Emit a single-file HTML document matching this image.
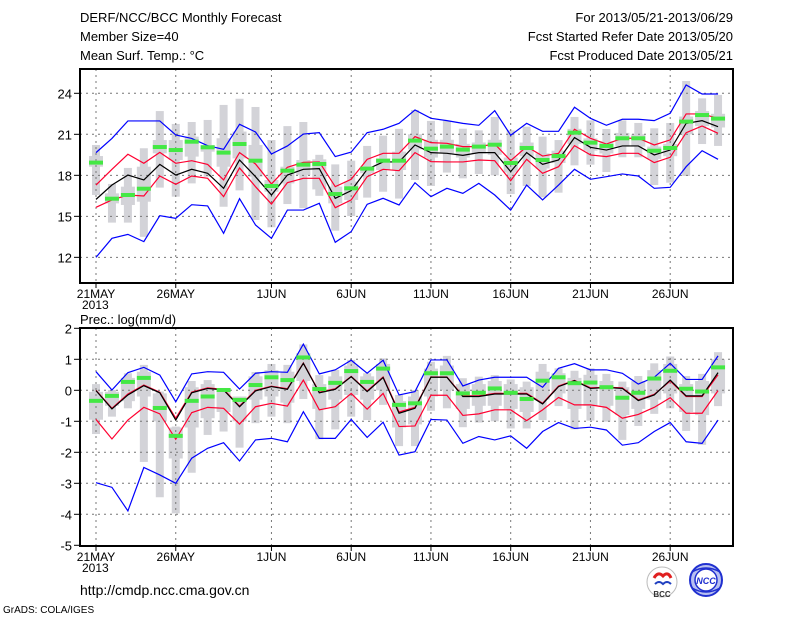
<!DOCTYPE html>
<html><head><meta charset="utf-8"><style>
body{margin:0;background:#fff;}
svg{display:block;font-family:"Liberation Sans",sans-serif;}
</style></head><body>
<svg id="chart" width="800" height="618" viewBox="0 0 800 618">
<rect x="0" y="0" width="800" height="618" fill="#fff"/>
<g font-size="13" fill="#000">
<text x="80" y="22">DERF/NCC/BCC Monthly Forecast</text>
<text x="80" y="41">Member Size=40</text>
<text x="80" y="60">Mean Surf. Temp.: °C</text>
<text x="733" y="22" text-anchor="end">For 2013/05/21-2013/06/29</text>
<text x="733" y="41" text-anchor="end">Fcst Started Refer Date 2013/05/20</text>
<text x="733" y="60" text-anchor="end">Fcst Produced Date 2013/05/21</text>
<text x="80" y="324">Prec.: log(mm/d)</text>
<text x="80" y="595" font-size="14">http://cmdp.ncc.cma.gov.cn</text>
<text x="3" y="613" font-size="10">GrADS: COLA/IGES</text>
</g>
<g>
<circle cx="662" cy="582" r="15" fill="#fff" stroke="#bbb" stroke-width="1"/>
<path d="M654 578 q4 -7 9 -2 q5 -5 8 2" stroke="#e02020" stroke-width="3" fill="none"/>
<path d="M655 584 q4 -4 8 0 q4 -4 8 0" stroke="#2040c0" stroke-width="2" fill="none"/>
<text x="662" y="597" font-size="8" text-anchor="middle" font-weight="bold" fill="#333">BCC</text>
</g>
<g>
<circle cx="706" cy="580" r="16" fill="#b8c0f0" stroke="#2030d0" stroke-width="2"/>
<circle cx="706" cy="580" r="11" fill="#fff" stroke="#2030d0" stroke-width="1.5"/>
<path d="M692 572 q14 -8 28 0 M692 588 q14 8 28 0" stroke="#2030d0" stroke-width="1.5" fill="none"/>
<text x="706" y="584" font-size="9" text-anchor="middle" font-weight="bold" font-style="italic" fill="#2030d0">NCC</text>
</g>
<g id="plots"></g>
</svg>
<script>
const dates=["21MAY","26MAY","1JUN","6JUN","11JUN","16JUN","21JUN","26JUN"];
const dateIdx=[0,5,11,16,21,26,31,36];
const tTicks=[12,15,18,21,24];
const pTicks=[-5,-4,-3,-2,-1,0,1,2];
// Temperature
const tBlueHi=[19.66,20.7,21.98,21.98,21.98,20.95,20.7,20.17,19.9,21.73,21.17,19.56,20.15,21.02,21.12,19.37,19.7,21.12,21.37,21.8,22.78,22.17,22.0,21.8,21.66,22.73,20.93,21.8,21.22,21.22,22.98,22.17,21.66,22.1,22.1,22.0,22.54,24.61,23.95,23.95];
const tRedHi=[17.29,18.44,19.54,18.88,19.68,18.88,19.07,18.8,17.66,19.66,18.83,17.37,18.59,18.95,18.98,17.17,17.71,19.17,19.61,19.61,20.83,20.39,20.34,20.1,20.1,20.29,19.07,20.1,19.41,19.61,21.37,20.71,20.29,20.71,20.71,20.22,20.59,22.49,22.49,22.17];
const tMean=[16.24,17.29,18.02,17.66,18.8,18.02,18.44,18.15,17.05,19.12,17.9,16.56,18.02,18.44,18.49,16.32,16.88,18.44,18.98,18.98,20.22,19.66,19.61,19.46,19.66,19.66,18.27,19.66,18.8,19.12,20.76,20.05,19.85,20.15,20.15,19.49,19.85,21.8,22.0,21.56];
const tRedLo=[15.66,16.2,16.56,16.49,17.95,17.34,17.95,17.78,16.44,18.54,17.17,15.9,17.46,17.78,17.78,15.63,16.2,17.9,18.44,18.34,19.66,19.0,18.98,18.98,19.12,19.07,17.61,19.17,18.15,18.63,20.17,19.49,19.37,19.61,19.61,18.93,19.32,21.12,21.61,21.07];
const tBlueLo=[12.0,13.39,13.68,13.15,15.05,14.85,15.85,15.76,13.76,16.29,14.37,13.39,15.46,15.46,15.95,13.1,13.88,15.88,16.32,15.83,17.46,16.44,17.05,16.68,17.41,16.56,15.46,17.29,16.2,17.29,18.44,17.71,17.9,18.1,17.95,17.05,17.12,18.63,19.8,19.17];
const tObs=[18.93,16.29,16.56,17.02,20.07,19.85,20.46,20.05,19.66,20.29,19.07,17.22,18.34,18.78,18.83,16.63,17.05,18.49,19.07,19.07,20.54,19.95,20.1,19.88,20.1,20.24,18.9,20.0,19.12,19.41,21.12,20.39,20.15,20.71,20.71,19.8,20.0,21.93,22.41,22.15];
const tWhiskHi=[20.22,17.37,18.54,19.98,22.7,21.76,21.9,22.05,23.15,23.6,23.0,20.58,21.6,21.9,19.5,18.8,19.07,20.15,20.9,21.4,22.78,21.98,21.98,21.41,21.29,22.27,21.29,21.56,20.83,20.58,22.27,22.02,21.39,22.02,21.83,21.44,21.83,24.9,23.63,23.88];
const tWhiskLo=[16.56,14.54,14.54,13.5,17.1,16.44,17.41,17.9,15.7,16.9,14.73,14.2,15.9,15.6,16.5,13.95,15.02,16.37,16.8,16.3,17.66,17.22,18.2,17.78,18.1,18.0,16.63,17.22,16.39,16.73,18.73,18.78,18.24,19.32,19.32,17.29,17.46,17.95,20.29,20.15];
const tBoxHi=[19.41,16.68,17.17,18.63,20.58,20.58,20.83,20.22,20.71,21.2,20.22,17.66,18.63,19.12,19.17,17.17,17.54,18.63,19.24,19.73,21.0,20.6,20.6,20.3,20.4,20.6,19.3,20.4,19.6,19.8,21.4,20.7,20.5,21.1,21.0,20.1,20.3,22.3,22.7,22.5];
const tBoxLo=[18.63,15.95,15.83,16.07,19.61,19.12,19.37,19.73,18.63,19.24,17.9,16.8,17.41,18.02,16.97,15.95,16.2,18.15,18.39,18.39,19.9,19.3,19.6,19.3,19.6,19.5,18.2,19.4,18.5,18.9,20.3,19.8,19.6,20.1,20.1,19.2,19.4,21.0,21.6,21.5];
// Precipitation
const pBlueHi=[0.6,0.01,0.57,0.74,0.49,-0.37,0.53,0.6,0.58,0.04,0.55,0.6,0.58,1.49,0.53,0.66,0.97,0.55,0.97,-0.15,-0.04,0.98,0.98,0.14,0.33,0.42,0.42,0.42,0.1,0.71,0.86,0.66,0.66,0.55,0.2,0.42,0.87,0.35,0.35,1.11];
const pRedHi=[0.0,-0.58,-0.12,0.17,-0.06,-0.9,-0.06,0.08,0.03,-0.51,0.0,0.13,0.05,0.88,-0.06,0.05,0.45,-0.02,0.43,-0.7,-0.55,0.43,0.43,-0.18,-0.18,-0.1,-0.1,-0.1,-0.42,0.14,0.32,0.08,0.1,0.08,-0.31,-0.13,0.3,-0.2,-0.2,0.5];
const pMean=[-0.01,-0.6,-0.15,0.15,-0.08,-0.96,-0.08,0.06,0.01,-0.53,-0.02,0.12,0.03,0.87,-0.08,0.03,0.44,-0.04,0.41,-0.74,-0.58,0.42,0.42,-0.2,-0.2,-0.12,-0.12,-0.12,-0.44,0.12,0.31,0.06,0.09,0.06,-0.33,-0.15,0.33,-0.18,-0.18,0.57];
const pRedLo=[-0.94,-1.57,-0.96,-0.55,-0.76,-1.58,-0.72,-0.55,-0.58,-1.09,-0.53,-0.42,-0.51,0.33,-0.63,-0.53,-0.1,-0.61,-0.1,-1.17,-1.15,-0.16,-0.16,-0.81,-0.76,-0.63,-0.63,-0.98,-0.63,-0.23,-0.47,-0.47,-0.55,-0.9,-0.78,-0.55,-0.24,-0.74,-0.74,-0.01];
const pBlueLo=[-2.98,-3.13,-3.89,-2.49,-2.73,-3.0,-2.19,-1.87,-1.69,-2.28,-1.6,-1.55,-1.66,-0.69,-1.55,-1.55,-0.94,-1.52,-1.03,-2.09,-1.98,-0.94,-0.96,-1.71,-1.49,-1.6,-1.47,-1.87,-1.33,-1.04,-1.23,-1.19,-1.28,-1.77,-1.69,-1.33,-1.04,-1.66,-1.71,-0.96];
const pObs=[-0.34,-0.18,0.27,0.4,-0.57,-1.47,-0.34,-0.2,0.01,-0.31,0.17,0.42,0.33,1.06,0.04,0.24,0.62,0.27,0.7,-0.47,-0.42,0.55,0.55,-0.1,-0.08,0.06,-0.08,-0.28,0.31,0.42,0.23,0.25,0.1,-0.24,-0.08,0.38,0.63,0.05,-0.04,0.74];
const pWhiskHi=[0.2,0.01,0.55,0.82,-0.04,-1.17,0.3,0.33,-0.04,-0.31,0.59,0.85,0.82,1.48,0.49,0.66,0.98,0.55,1.03,-0.15,0.01,0.92,1.11,0.39,0.44,0.49,0.35,0.28,0.85,0.71,0.63,0.71,0.53,0.28,0.46,0.87,1.09,0.46,0.53,1.23];
const pWhiskLo=[-1.41,-0.85,-0.58,-2.31,-3.45,-3.97,-2.66,-1.44,-1.33,-1.85,-1.06,-0.85,-1.06,-0.28,-1.58,-1.26,-0.85,-0.96,-0.47,-1.8,-1.8,-0.66,-0.58,-1.19,-1.04,-1.0,-1.23,-1.23,-0.96,-0.51,-1.26,-0.98,-1.01,-1.6,-1.15,-0.76,-0.58,-1.31,-1.76,-0.51];
const pBoxHi=[-0.05,-0.05,0.4,0.6,-0.1,-1.2,0.1,0.2,-0.05,-0.2,0.45,0.65,0.6,1.2,0.2,0.45,0.8,0.45,0.85,-0.35,-0.2,0.7,0.8,0.2,0.2,0.3,0.2,0.1,0.6,0.55,0.4,0.5,0.3,0.1,0.3,0.65,0.85,0.2,0.3,1.0];
const pBoxLo=[-0.95,-0.5,-0.35,-0.2,-1.0,-2.2,-1.2,-0.9,-0.7,-1.0,-0.3,-0.2,-0.4,0.3,-0.6,-0.3,-0.15,-0.3,0.0,-1.2,-1.1,-0.2,0.0,-0.6,-0.5,-0.5,-0.6,-0.7,-0.3,-0.1,-0.6,-0.5,-0.5,-0.8,-0.6,-0.3,-0.1,-0.7,-0.8,-0.1];

const NS='http://www.w3.org/2000/svg';
const root=document.getElementById('plots');
const X0=80,X1=733;
function xs(i){return 96+i*15.95;}
function mk(tag,attrs,parent){const e=document.createElementNS(NS,tag);for(const k in attrs)e.setAttribute(k,attrs[k]);(parent||root).appendChild(e);return e;}

function panel(pname,top,bottom,ys,ticks,d){
  const g=mk('g',{});
  
  
  for(let i=0;i<d.whHi.length;i++){
    const w=mk('rect',{x:xs(i)-4,y:ys(d.whHi[i]),width:8,height:Math.max(1,ys(d.whLo[i])-ys(d.whHi[i])),fill:'#d3d3d8'},g);
    
    
    const b=mk('rect',{x:xs(i)-7,y:ys(d.bxHi[i]),width:14,height:Math.max(1,ys(d.bxLo[i])-ys(d.bxHi[i])),fill:'#d3d3d8'},g);
    
    
  }
  ticks.forEach(t=>{
    const y=ys(t);
    if(y>top+2&&y<bottom-2){const l=mk('line',{x1:X0,x2:X1,y1:y,y2:y,stroke:'#777','stroke-dasharray':'2,4','stroke-width':1},g);
    
    }
    const tk=mk('line',{x1:X0-6,x2:X0,y1:y,y2:y,stroke:'#000','stroke-width':1},g);
    
    
    const tx=mk('text',{x:X0-8,y:y+5,'text-anchor':'end','font-size':13},g);
    tx.textContent=String(t);
    
    
  });
  dateIdx.forEach((di,k)=>{
    const x=xs(di);
    const l=mk('line',{x1:x,x2:x,y1:top,y2:bottom,stroke:'#777','stroke-dasharray':'2,4','stroke-width':1},g);
    
    
    const tk=mk('line',{x1:x,x2:x,y1:bottom,y2:bottom+5,stroke:'#000'},g);
    
    
    const tx=mk('text',{x:x,y:bottom+15,'text-anchor':'middle','font-size':12},g);
    tx.textContent=dates[k];
    
    
  });
  const yr=mk('text',{x:82,y:bottom+26,'font-size':12},g);
  yr.textContent='2013';
  
  
  const series=[[d.bHi,'#0000ff','blue-upper-line'],[d.bLo,'#0000ff','blue-lower-line'],[d.rHi,'#ff0030','red-upper-line'],[d.rLo,'#ff0030','red-lower-line'],[d.m,'#000','ensemble-mean-line']];
  series.forEach(s=>{
    const p=mk('polyline',{points:s[0].map((v,i)=>xs(i)+','+ys(v)).join(' '),fill:'none',stroke:s[1],'stroke-width':1.2},g);
    
    
  });
  d.obs.forEach((v,i)=>{
    const r=mk('rect',{x:xs(i)-7,y:ys(v)-2,width:14,height:4,fill:'#44e844'},g);
    
    
  });
  const fr=mk('rect',{x:X0,y:top,width:X1-X0,height:bottom-top,fill:'none',stroke:'#000','stroke-width':2},g);
  
  
}
panel('temperature-panel',69,283,v=>93.3+(24-v)*13.67,tTicks,{whHi:tWhiskHi,whLo:tWhiskLo,bxHi:tBoxHi,bxLo:tBoxLo,bHi:tBlueHi,bLo:tBlueLo,rHi:tRedHi,rLo:tRedLo,m:tMean,obs:tObs});
panel('precipitation-panel',328,546,v=>390.3-v*31,pTicks,{whHi:pWhiskHi,whLo:pWhiskLo,bxHi:pBoxHi,bxLo:pBoxLo,bHi:pBlueHi,bLo:pBlueLo,rHi:pRedHi,rLo:pRedLo,m:pMean,obs:pObs});
</script>
</body></html>
